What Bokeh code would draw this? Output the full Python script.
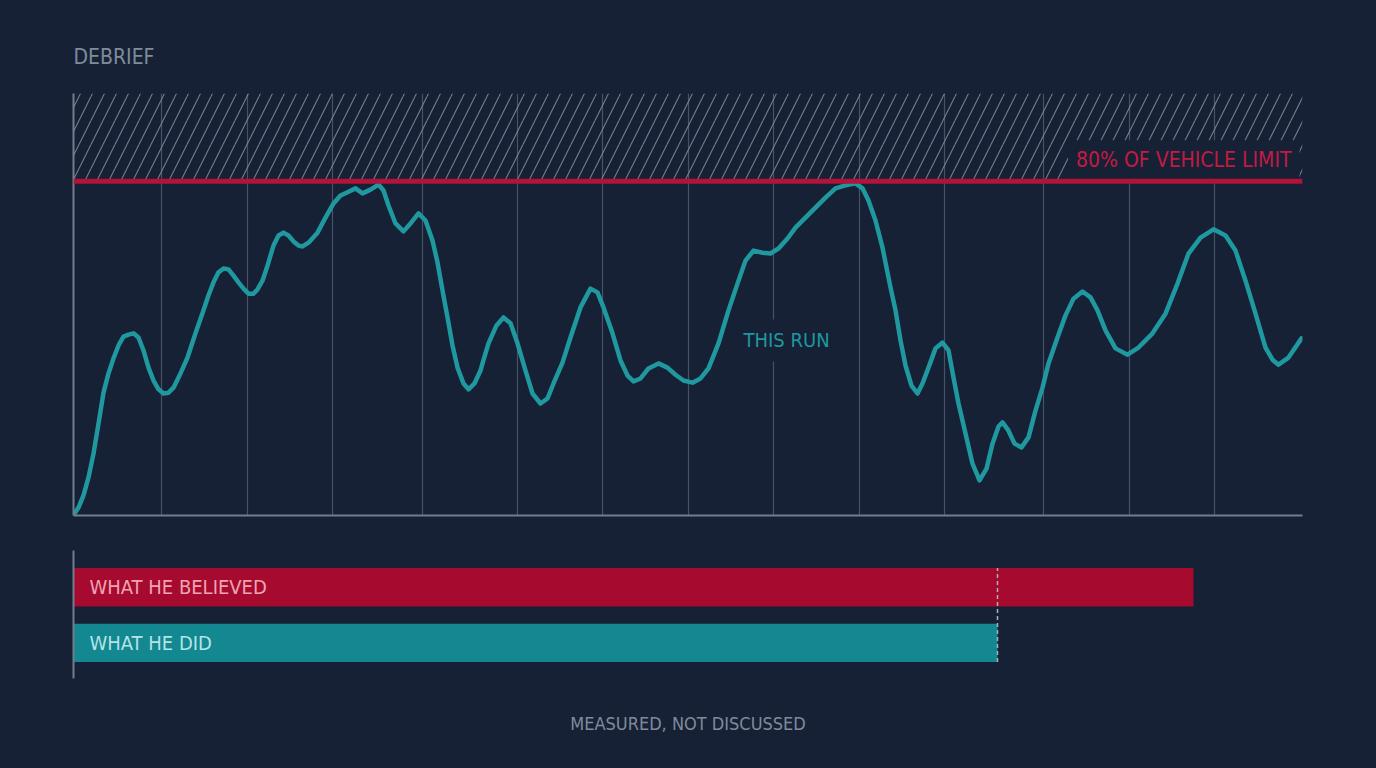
from bokeh.plotting import figure
from bokeh.models import Range1d, FixedTicker, BoxAnnotation, Span, Label, Title
from bokeh.layouts import column
from bokeh.embed import file_html
from bokeh.resources import INLINE
from bokeh.core.properties import value

# ---------------- data ----------------
TITLE = "DEBRIEF"
FOOTER = "MEASURED, NOT DISCUSSED"
LIMIT_LABEL = "80% OF VEHICLE LIMIT"
LINE_LABEL = "THIS RUN"
LIMIT = 80          # % of vehicle limit
Y_MAX = 101
RUN_LENGTH = 1229   # distance along the run (m)

RUN_X = [1, 5, 10, 15, 20, 25, 30, 35, 40, 45, 50, 55, 60, 65, 70, 75, 80, 85, 90, 95,
         100, 107, 114, 122, 130, 135, 140, 145, 150, 155, 160, 165, 170, 175, 180, 184,
         189, 194, 200, 205, 210, 215, 220, 225, 229, 235, 244, 252, 260, 267, 275, 282,
         289, 297, 305, 310, 315, 322, 330, 337, 345, 352, 359, 364, 369, 374, 379, 384,
         390, 395, 401, 407, 409, 415, 423, 430, 437, 444, 452, 459, 467, 474, 480, 489,
         497, 507, 517, 524, 530, 539, 547, 554, 560, 567, 575, 585, 594, 602, 610, 619,
         627, 635, 645, 655, 664, 672, 680, 689, 697, 705, 714, 722, 732, 742, 752, 762,
         772, 782, 789, 795, 802, 809, 817, 822, 827, 832, 838, 844, 849, 855, 862, 869,
         875, 880, 885, 892, 899, 906, 913, 919, 925, 929, 935, 941, 948, 955, 962, 969,
         975, 984, 992, 1000, 1009, 1017, 1024, 1032, 1042, 1054, 1065, 1079, 1092, 1104,
         1115, 1127, 1140, 1152, 1162, 1172, 1182, 1192, 1199, 1205, 1215, 1228]
RUN_LOAD = [0.5, 1.9, 4.8, 9.1, 14.8, 22.0, 29.4, 34.0, 37.6, 40.7, 42.8, 43.3, 43.6,
            42.6, 39.5, 35.4, 32.3, 30.2, 29.2, 29.4, 30.6, 34.0, 37.8, 43.6, 49.1, 52.7,
            55.8, 58.2, 59.1, 58.9, 57.4, 55.8, 54.3, 53.1, 53.1, 54.1, 56.2, 59.8, 64.6,
            67.0, 67.7, 67.0, 65.6, 64.6, 64.4, 65.3, 67.7, 71.3, 74.7, 76.6, 77.5, 78.3,
            77.1, 78.0, 79.2, 77.8, 74.2, 69.9, 68.0, 69.9, 72.3, 70.6, 65.8, 60.6, 53.9,
            47.4, 40.7, 35.4, 31.6, 30.2, 31.6, 34.7, 36.4, 41.2, 45.5, 47.4, 46.0, 41.2,
            34.7, 29.2, 26.8, 28.0, 31.6, 36.6, 42.6, 49.8, 54.3, 53.4, 49.8, 43.6, 37.1,
            33.5, 32.1, 32.8, 35.2, 36.4, 35.4, 33.7, 32.3, 31.8, 32.8, 35.2, 41.2, 49.1,
            55.5, 61.0, 63.4, 62.9, 62.7, 63.9, 66.3, 68.9, 71.3, 73.7, 76.1, 78.3, 79.0,
            79.5, 78.3, 75.4, 70.6, 64.1, 54.6, 49.1, 41.9, 35.9, 31.1, 29.2, 31.6, 35.4,
            40.0, 41.4, 39.5, 33.0, 26.8, 19.6, 12.4, 8.4, 11.2, 17.2, 21.3, 22.3, 20.3,
            17.2, 16.3, 18.7, 25.1, 30.6, 36.4, 42.6, 47.9, 51.9, 53.6, 52.2, 49.1, 44.3,
            40.0, 38.5, 40.2, 43.6, 48.3, 55.5, 62.7, 66.5, 68.5, 67.0, 63.4, 56.2, 48.3,
            40.2, 37.3, 36.1, 37.8, 42.4]
SECTOR_BREAKS = [88, 174, 259, 349, 444, 529, 615, 700, 786, 871, 970, 1056, 1141, 1229]

BAR_LABELS = ["WHAT HE BELIEVED", "WHAT HE DID"]
BAR_VALUES = [1120, 924]

# ---------------- style ----------------
FONT = "DejaVu Sans Condensed, sans-serif"
BG = "#162136"
GRID = "#485266"
AXIS = "#737d8e"
HATCH = "#8a93a1"
RED = "#b3123a"
RED_TEXT = "#c41a43"
RED_BAR = "#a60a2e"
TEAL = "#1f989f"
TEAL_BAR = "#138890"
GREY_TEXT = "#808b9b"
BAR_TEXT = ["#f0a3b3", "#b5e3e7"]

# ---------------- line chart ----------------
p = figure(width=1376, height=530, x_range=Range1d(0, RUN_LENGTH), y_range=Range1d(0, Y_MAX),
           output_backend="svg", toolbar_location=None,
           min_border_left=73, min_border_right=74, min_border_top=93, min_border_bottom=15,
           background_fill_color=None, border_fill_color=None, outline_line_color=None)
p.title.text = TITLE
p.title.align = "left"
p.title.text_font = FONT
p.title.text_font_size = "21px"
p.title.text_font_style = "normal"
p.title.text_color = GREY_TEXT
p.title.standoff = 49
for ax in (p.xaxis[0], p.yaxis[0]):
    ax.ticker = FixedTicker(ticks=[])
    ax.axis_line_color = AXIS
    ax.axis_line_width = 2
    ax.major_tick_line_color = None
    ax.minor_tick_line_color = None
    ax.major_label_text_font_size = "1px"
p.xgrid.ticker = FixedTicker(ticks=SECTOR_BREAKS)
p.xgrid.grid_line_color = GRID
p.xgrid.grid_line_width = 1.2
p.ygrid.grid_line_color = None

p.add_layout(BoxAnnotation(bottom=LIMIT, top=Y_MAX, fill_color=None, line_color=None,
                           hatch_pattern="/", hatch_color=HATCH, hatch_alpha=0.8,
                           hatch_scale=24, hatch_weight=1.1))

p.line(RUN_X, RUN_LOAD, line_color=TEAL, line_width=4.5, line_join="round", line_cap="round")

p.add_layout(Label(x=RUN_LENGTH, y=85, text=LIMIT_LABEL, text_align="right", text_baseline="middle",
                   x_offset=-3, text_font=FONT, text_font_size="21px", text_color=RED_TEXT,
                   background_fill_color=BG, padding=8))
p.add_layout(Label(x=669, y=41.9, text=LINE_LABEL, text_baseline="middle", x_offset=-8,
                   text_font=FONT, text_font_size="20px", text_color=TEAL,
                   background_fill_color=BG, padding=9))
p.add_layout(Span(location=LIMIT, dimension="width", line_color=RED, line_width=5))

# ---------------- bars ----------------
BAR_H = 0.69
ys = list(range(len(BAR_LABELS) - 1, -1, -1))
p2 = figure(width=1376, height=238, x_range=Range1d(0, RUN_LENGTH), y_range=Range1d(-0.64, 1.66),
            output_backend="svg", toolbar_location=None,
            min_border_left=73, min_border_right=74, min_border_top=20, min_border_bottom=90,
            background_fill_color=None, border_fill_color=None, outline_line_color=None)
p2.xaxis.visible = False
p2.yaxis.ticker = FixedTicker(ticks=[])
p2.yaxis.axis_line_color = AXIS
p2.yaxis.axis_line_width = 2
p2.yaxis.major_tick_line_color = None
p2.yaxis.minor_tick_line_color = None
p2.yaxis.major_label_text_font_size = "1px"
p2.grid.grid_line_color = None

p2.hbar(y=ys, left=0, right=BAR_VALUES, height=BAR_H,
        fill_color=[RED_BAR, TEAL_BAR], line_color=None)
p2.segment(x0=[BAR_VALUES[1]], x1=[BAR_VALUES[1]], y0=[min(ys) - BAR_H / 2],
           y1=[max(ys) + BAR_H / 2], line_color="#a9b1bd", line_width=1.5, line_dash="4 3")
p2.text(x=[0] * len(ys), y=ys, text=BAR_LABELS, x_offset=16, text_baseline="middle",
        text_color=BAR_TEXT, text_font=value(FONT), text_font_size="20px")
p2.add_layout(Title(text=FOOTER, align="center", text_font=FONT, text_font_size="18px",
                    text_font_style="normal", text_color=GREY_TEXT, standoff=64), "below")

layout = column(p, p2, styles={"background-color": BG})
html = file_html(layout, INLINE)
html = html.replace("<head>", "<head><style>html,body{margin:0;background:%s;}</style>" % BG, 1)
open("out.html", "w").write(html)
